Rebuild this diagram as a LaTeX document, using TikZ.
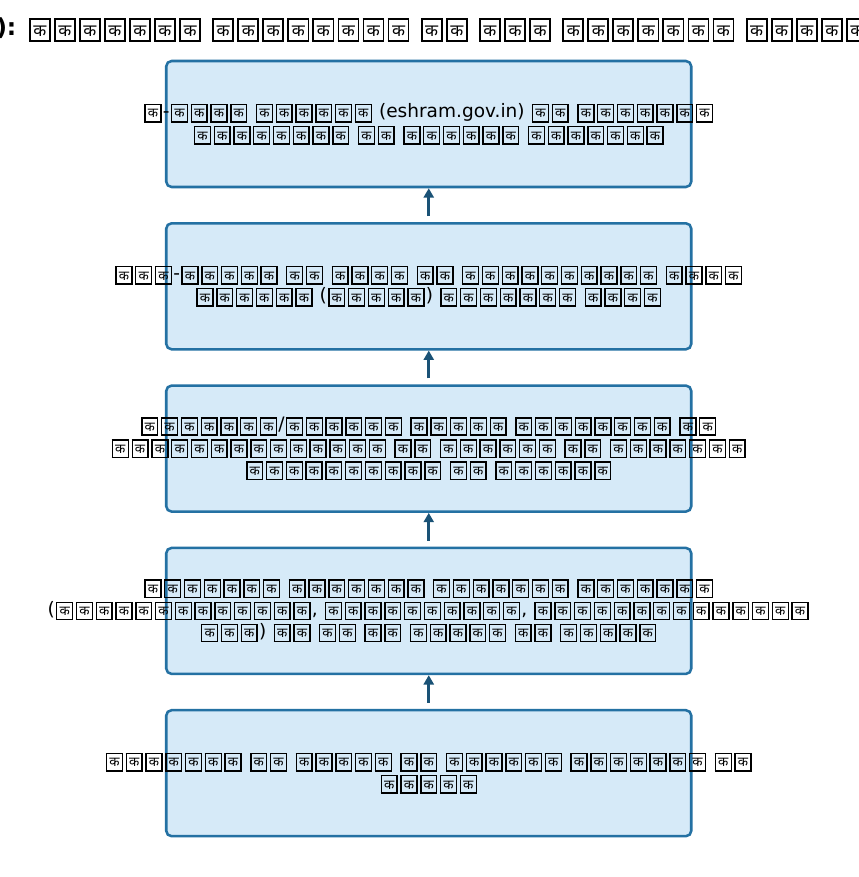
\documentclass[tikz,border=0pt]{standalone}
\usepackage{fontspec}
\setmainfont{DejaVu Sans}
\newfontfamily\deva[Script=Devanagari]{Noto Sans}
\usepackage{graphicx}
\usetikzlibrary{arrows.meta}
\definecolor{boxfill}{HTML}{D6EAF8}
\definecolor{boxedge}{HTML}{2471A3}
\definecolor{arrowc}{HTML}{1A5276}
% a missing-glyph style box around each Devanagari letter, as the reference prints it
\newcommand\tofu{\makebox[1.067em]{\raisebox{-0.2em}{\setlength\fboxsep{0pt}\setlength\fboxrule{0.075em}\fbox{\makebox[0.78em]{\rule{0pt}{0.86em}\raisebox{0.17em}{\scalebox{0.72}{\deva\char"0915}}}}}}}
\begingroup\lccode`\~="0915 \lowercase{\endgroup\def~}{\tofu}
\catcode"0915=13
\begin{document}
\begin{tikzpicture}[x=0.75pt,y=-0.75pt,
  stepbox/.style={draw=boxedge, fill=boxfill, line width=1.9pt, rounded corners=4pt,
    minimum width=393.75pt, minimum height=94.5pt, inner sep=0pt},
  boxtext/.style={align=center, inner sep=0pt, font=\fontsize{13.9pt}{16.6pt}\selectfont},
  arr/.style={draw=arrowc, line width=2.2pt, -{Triangle[length=7pt,width=7.5pt]}}]
\fill[white] (0,0) rectangle (858,877);
\useasboundingbox (0,0) rectangle (858,877);

\node[anchor=west, inner sep=0pt, font=\fontsize{17.6pt}{20pt}\selectfont\bfseries] (title) at (-4,30)
  {): ककककककक कककककककक कक ककक ककककककक ककककक};

\node[stepbox] (b1) at (428.75,124) {};
\node[stepbox] (b2) at (428.75,286.3) {};
\node[stepbox] (b3) at (428.75,448.6) {};
\node[stepbox] (b4) at (428.75,610.9) {};
\node[stepbox] (b5) at (428.75,773.2) {};

\node[boxtext] (t1) at (b1.center) {क-कककक कककककक (eshram.gov.in) कक ककककककक\\कककककककक कक कककककक ककककककक};
\node[boxtext] (t2) at (b2.center) {ककक-ककककक कक कककक कक कककककककककक कककक\\कककककक (ककककक) ककककककक कककक};
\node[boxtext] (t3) at (b3.center) {ककककककक/कककककक ककककक कककककककक कक\\कककककककककककककक कक कककककक कक ककककककक\\कककककककककक कक कककककक};
\node[boxtext] (t4) at (b4.center) {ककककककक ककककककक ककककककक ककककककक\\(ककककककककककककक, कककककककककक, कककककककककककककक\\ककक) कक कक कक ककककक कक ककककक};
\node[boxtext] (t5) at (b5.center) {ककककककक कक ककककक कक कककककक ककककककक कक\\ककककक};

\draw[arr] ([yshift=4.5pt]b5.north) -- (b4.south);
\draw[arr] ([yshift=4.5pt]b4.north) -- (b3.south);
\draw[arr] ([yshift=4.5pt]b3.north) -- (b2.south);
\draw[arr] ([yshift=4.5pt]b2.north) -- (b1.south);
\end{tikzpicture}
\end{document}
